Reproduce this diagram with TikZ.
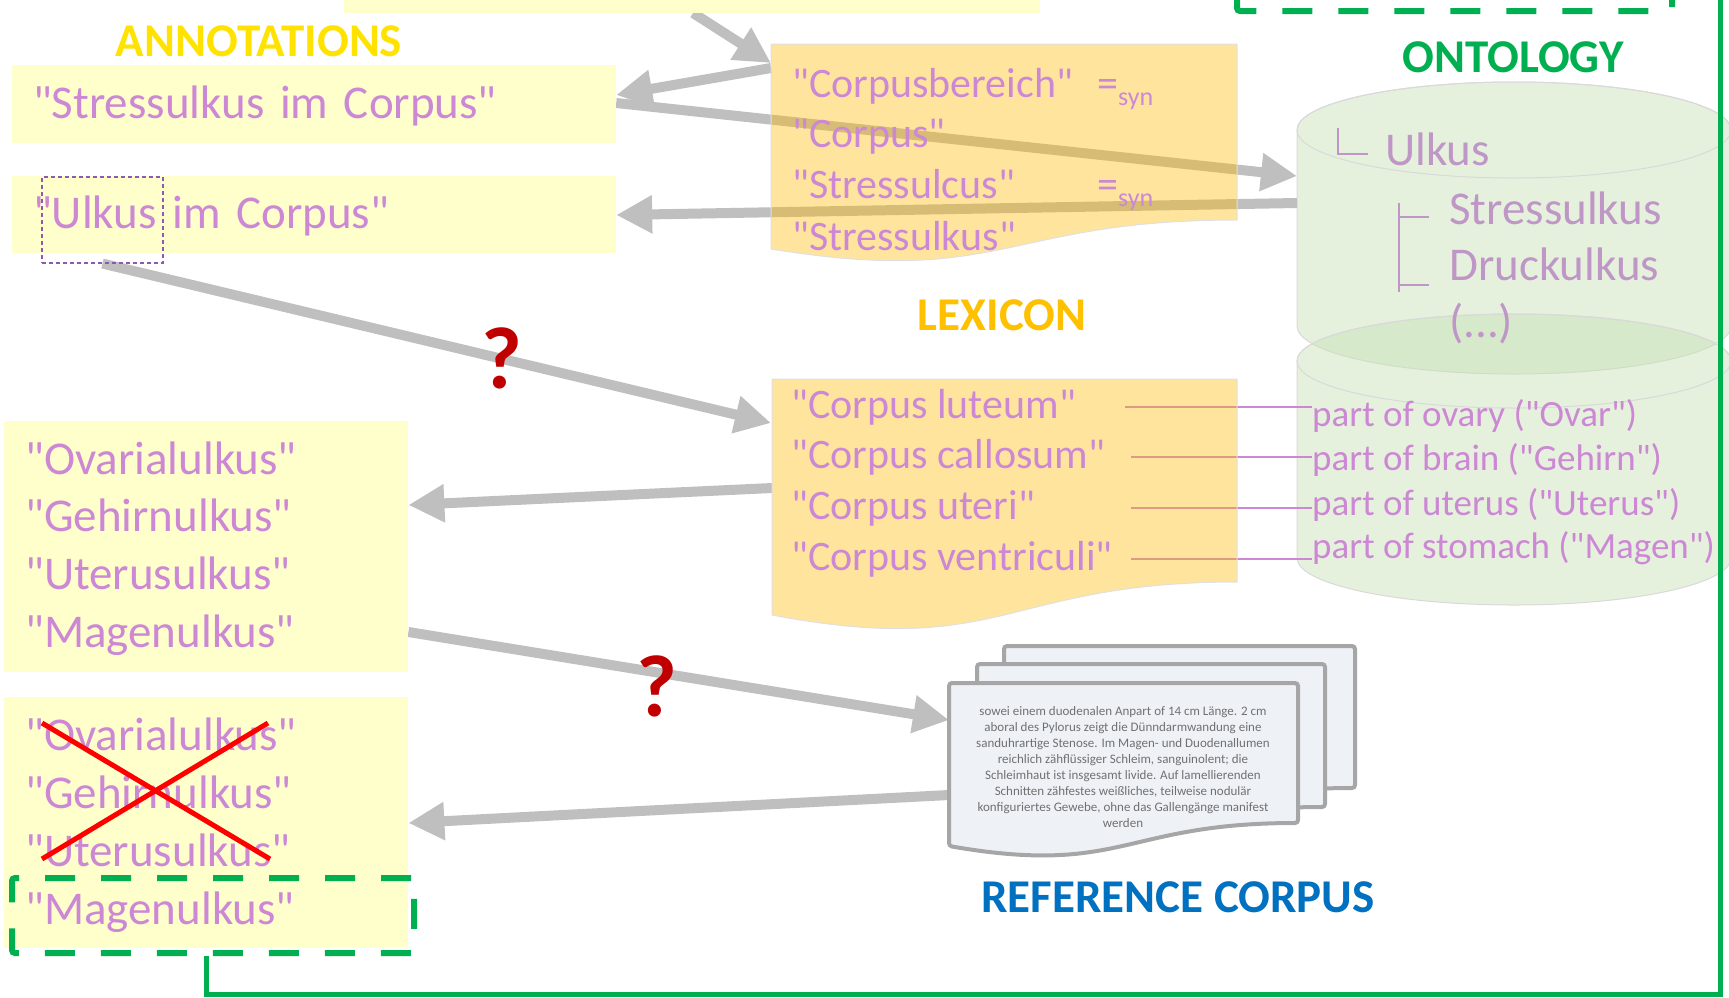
\documentclass[tikz,border=0pt]{standalone}
\usepackage{fontspec}
\setmainfont{Carlito}[Ligatures=TeXOff]
\usetikzlibrary{arrows.meta}

\definecolor{annoyellow}{HTML}{FFFFCC}
\definecolor{orchidtext}{HTML}{CC88D4}
\definecolor{ontotext}{HTML}{BF97C7}
\definecolor{arrowgray}{HTML}{BFBFBF}
\definecolor{lexorange}{HTML}{FFB900}
\definecolor{ontogreen}{HTML}{C5E0B4}
\definecolor{framegreen}{HTML}{00B050}
\definecolor{corpusfill}{HTML}{EEF2F7}
\definecolor{corpusedge}{HTML}{A6A6A6}
\definecolor{corpusgray}{HTML}{707070}
\definecolor{refblue}{HTML}{0070C0}
\definecolor{queryred}{HTML}{C00000}
\definecolor{lexgold}{HTML}{FFC000}
\definecolor{annogold}{HTML}{FFE200}
\definecolor{markpurple}{HTML}{7030A0}

\pgfdeclarelayer{below}
\pgfsetlayers{below,main}

\begin{document}
\begin{tikzpicture}[x=1pt, y=-1pt,
    annobox/.style={fill=annoyellow, text=orchidtext, font=\fontsize{47}{56}\selectfont,
      inner xsep=21pt, text width=562pt, align=left, text height=34pt, text depth=6pt},
    yellowbox/.style={fill=annoyellow, inner sep=0pt},
    word/.style={text=orchidtext, font=\fontsize{47}{56}\selectfont, inner sep=0pt, anchor=base west},
    lexword/.style={text=orchidtext, font=\fontsize{42}{50}\selectfont, inner sep=0pt, anchor=base west},
    ontoword/.style={text=ontotext, font=\fontsize{47}{56}\selectfont, inner sep=0pt, anchor=base west},
    partword/.style={text=orchidtext, font=\fontsize{37}{44}\selectfont, inner sep=0pt, anchor=base west},
    heading/.style={font=\fontsize{47}{56}\selectfont\bfseries, inner sep=0pt},
    query/.style={text=queryred, font=\fontsize{88}{90}\selectfont\bfseries, inner sep=0pt},
    flow/.style={draw=arrowgray, line width=10pt, -{Triangle[length=36pt, width=36pt]}},
    lexdoc/.style={fill=lexorange, fill opacity=0.38, draw=black!12, line width=1pt},
    ontodb/.style={fill=ontogreen, fill opacity=0.45, draw=black!15, line width=1pt},
    corpusdoc/.style={fill=corpusfill, draw=corpusedge, line width=4pt, rounded corners=3pt},
    greendash/.style={draw=framegreen, line width=6pt, dash pattern=on 30pt off 26pt, rounded corners=3pt},
    greenline/.style={draw=framegreen, line width=5pt},
    treeline/.style={draw=ontotext, line width=1.5pt},
    partline/.style={draw=orchidtext, line width=1.5pt},
    cross/.style={draw=red, line width=5pt}]

    \useasboundingbox (0,0) rectangle (1729,997);
    \clip (0,0) rectangle (1729,997);

    % annotations
    \node[yellowbox, minimum width=696, minimum height=73, anchor=south west] (prevbox) at (344,13) {};
    \node[annobox, minimum height=78] (stress) at (314,104) {"Stressulkus im Corpus"};
    \node[annobox, minimum height=77] (ulkus) at (314,214.5) {"Ulkus im Corpus"};
    \node[draw=markpurple!80, line width=1.1pt, dash pattern=on 4pt off 3pt, minimum width=121, minimum height=86] (ulkusmark) at (102.5,220) {};

    \node[yellowbox, minimum width=404, minimum height=251, anchor=north west] (forms) at (4,421) {};
    \node[word] (ovarial) at (25,474) {"Ovarialulkus"};
    \node[word] (gehirn) at (25,531) {"Gehirnulkus"};
    \node[word] (uterus) at (25,589) {"Uterusulkus"};
    \node[word] (magen) at (25,647) {"Magenulkus"};

    \node[yellowbox, minimum width=404, minimum height=251, anchor=north west] (checked) at (4,697) {};
    \node[word] (ovarialx) at (25,750) {"Ovarialulkus"};
    \node[word] (gehirnx) at (25,808) {"Gehirnulkus"};
    \node[word] (uterusx) at (25,866) {"Uterusulkus"};
    \node[word] (magenx) at (25,924) {"Magenulkus"};

    % ontology
    \begin{pgfonlayer}{below}
    \path[ontodb] (1297,130) -- (1297,326) arc[start angle=180, end angle=0, x radius=217, y radius=48]
        -- (1731,130) arc[start angle=0, end angle=-180, x radius=217, y radius=48] -- cycle;
    \draw[black!15, line width=1pt] (1514,130) ellipse[x radius=217, y radius=48];
    \path[ontodb] (1297,361) -- (1297,558) arc[start angle=180, end angle=0, x radius=217, y radius=47]
        -- (1731,361) arc[start angle=0, end angle=-180, x radius=217, y radius=47] -- cycle;
    \draw[black!15, line width=1pt] (1514,361) ellipse[x radius=217, y radius=47];
    \end{pgfonlayer}
    \coordinate (ontoin) at (1297,176);
    \coordinate (ontoout) at (1297,203);

    \draw[treeline] (1338,128) |- (1368,154);
    \draw[treeline] (1399,203) -- (1399,292);
    \draw[treeline] (1399,217) -- (1429,217);
    \draw[treeline] (1399,285) -- (1429,285);
    \node[ontoword] (ulkusconcept) at (1385,165) {Ulkus};
    \node[ontoword] (stressconcept) at (1449,224) {Stressulkus};
    \node[ontoword] (druckconcept) at (1449,280) {Druckulkus};
    \node[ontoword] (moreconcept) at (1449,337) {(...)};

    \node[partword] (ovary) at (1312,426) {part of ovary ("Ovar")};
    \node[partword] (brain) at (1312,470) {part of brain ("Gehirn")};
    \node[partword] (uterine) at (1312,515) {part of uterus ("Uterus")};
    \node[partword] (stomach) at (1312,558) {part of stomach ("Magen")};

    % reference corpus
    \draw[corpusdoc] (1004,646) -- (1355,646) -- (1355,788) .. controls (1180,788) and (1180,842) .. (1004,811) -- cycle;
    \draw[corpusdoc] (977,664) -- (1325,664) -- (1325,807) .. controls (1151,807) and (1151,861) .. (977,830) -- cycle;
    \draw[corpusdoc] (949,683) -- (1298,683) -- (1298,823) .. controls (1123,823) and (1123,876) .. (949,846) -- cycle;
    \node[text=corpusgray, font=\fontsize{13}{16}\selectfont, align=center, inner sep=0pt] (report) at (1123,767)
        {sowei einem duodenalen Anpart of 14 cm Länge. 2 cm\\
         aboral des Pylorus zeigt die Dünndarmwandung eine\\
         sanduhrartige Stenose. Im Magen- und Duodenallumen\\
         reichlich zähflüssiger Schleim, sanguinolent; die\\
         Schleimhaut ist insgesamt livide. Auf lamellierenden\\
         Schnitten zähfestes weißliches, teilweise nodulär\\
         konfiguriertes Gewebe, ohne das Gallengänge manifest\\
         werden};
    \coordinate (corpusin) at (949,720);
    \coordinate (corpusout) at (949,795);

    % lexicon documents, then their entries
    \path[lexdoc] (771,44) -- (1237,44) -- (1237,220) .. controls (1004,220) and (1004,287) .. (771,249) -- cycle;
    \path[lexdoc] (772,379) -- (1237,379) -- (1237,582) .. controls (1004,582) and (1004,659) .. (772,615) -- cycle;
    \node[lexword] (bereich) at (792,97) {"Corpusbereich"};
    \node[lexword] (corpus) at (792,147) {"Corpus"};
    \node[lexword] (sulcus) at (792,198) {"Stressulcus"};
    \node[lexword] (sulkus) at (792,250) {"Stressulkus"};
    \node[lexword] (synone) at (1097,97) {=\raisebox{-8pt}{\fontsize{26}{26}\selectfont syn}};
    \node[lexword] (syntwo) at (1097,198) {=\raisebox{-8pt}{\fontsize{26}{26}\selectfont syn}};
    \node[lexword] (luteum) at (791,418) {"Corpus luteum"};
    \node[lexword] (callosum) at (791,468) {"Corpus callosum"};
    \node[lexword] (uteri) at (791,519) {"Corpus uteri"};
    \node[lexword] (ventriculi) at (791,570) {"Corpus ventriculi"};

    % arrows and lines go under the documents
    \coordinate (lexin) at (771,63);
    \coordinate (lexout) at (771,68);
    \coordinate (lexquery) at (771,423);
    \coordinate (lexback) at (772,488);
    \begin{pgfonlayer}{below}
    \draw[partline] (luteum.east -| 1125,0) -- (ovary.west |- luteum.east);
    \draw[partline] (callosum.east -| 1131,0) -- (brain.west |- callosum.east);
    \draw[partline] (uteri.east -| 1131,0) -- (uterine.west |- uteri.east);
    \draw[partline] (ventriculi.east -| 1131,0) -- (stomach.west |- ventriculi.east);
    \draw[flow] (prevbox.south -| 693,0) -- (lexin);
    \draw[flow] (lexout) -- (stress.east |- 0,95);
    \draw[flow] (stress.east |- 0,103) -- (ontoin);
    \draw[flow] (ontoout) -- (ulkus.east |- 0,215);
    \draw[flow] (ulkusmark.south) -- (lexquery);
    \draw[flow] (lexback) -- (forms.east |- 0,505);
    \draw[flow] (forms.east |- 0,632) -- (corpusin);
    \draw[flow] (corpusout) -- (checked.east |- 0,823);
    \end{pgfonlayer}

    % headings and marks
    \node[heading, text=annogold] (annotitle) at (259,41) {ANNOTATIONS};
    \node[heading, text=lexgold] (lextitle) at (1002,315) {LEXICON};
    \node[heading, text=framegreen] (ontotitle) at (1513,57) {ONTOLOGY};
    \node[heading, text=refblue] (reftitle) at (1178,897) {REFERENCE CORPUS};
    \node[query] (queryone) at (502,358) {?};
    \node[query] (querytwo) at (657,686) {?};

    \draw[cross] (42,723) -- (270,859);
    \draw[cross] (42,859) -- (268,723);

    \node[greendash, minimum width=402, minimum height=75, anchor=north west] (chosen) at (9,875) {};
    \draw[greendash] (1237,-60) rectangle (1672,11);
    \draw[greenline] (chosen.south -| 206,0) -- (206,994) -- (1720,994) -- (1720,-10);
\end{tikzpicture}
\end{document}
